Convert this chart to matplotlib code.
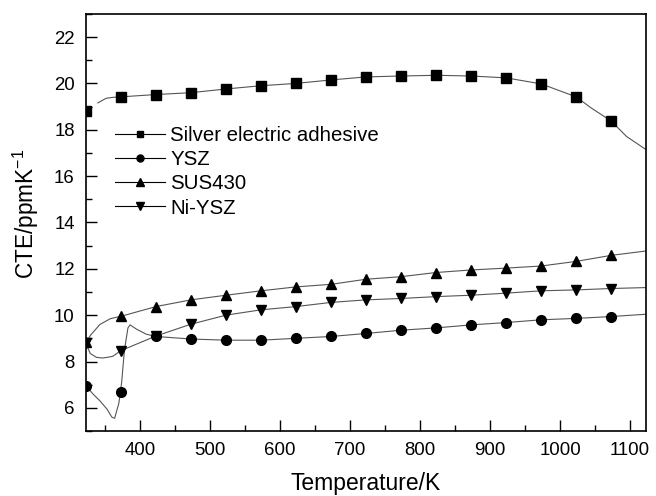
import numpy as np
import matplotlib
matplotlib.use('Agg')
import matplotlib.pyplot as plt
from matplotlib.ticker import MultipleLocator

plt.rcParams['font.family'] = ['Liberation Sans', 'DejaVu Sans']
plt.rcParams['mathtext.fontset'] = 'custom'
plt.rcParams['mathtext.rm'] = 'Liberation Sans'

# ── data ─────────────────────────────────────────────────────────────────────
# marker temperatures (every 50 K)
t_mark = [323, 373, 423, 473, 523, 573, 623, 673, 723, 773, 823, 873, 923, 973, 1023, 1073]

silver_mark = [18.82, 19.42, 19.52, 19.60, 19.76, 19.90, 20.00, 20.15, 20.28, 20.32,
               20.37, 20.32, 20.24, 19.98, 19.42, 18.38]
ysz_mark = [6.96, 6.67, 9.08, 8.97, 8.92, 8.92, 9.00, 9.08, 9.21, 9.35,
            9.45, 9.58, 9.68, 9.80, 9.86, 9.94]
sus_mark = [8.84, 9.95, 10.37, 10.66, 10.86, 11.05, 11.22, 11.33, 11.55, 11.66,
            11.84, 11.95, 12.03, 12.12, 12.32, 12.58]
ni_mark = [8.80, 8.47, 9.10, 9.61, 10.00, 10.23, 10.37, 10.55, 10.66, 10.72,
           10.80, 10.86, 10.95, 11.05, 11.09, 11.15]

# measured curves (denser near the low-temperature region)
silver_t = [340, 352, 362, 373, 423, 473, 523, 573, 623, 673, 723, 773, 823, 873, 923,
            973, 1023, 1045, 1073, 1095, 1123]
silver_v = [19.16, 19.36, 19.40, 19.42, 19.52, 19.60, 19.76, 19.90, 20.00, 20.15, 20.28,
            20.32, 20.35, 20.32, 20.24, 19.98, 19.42, 18.93, 18.38, 17.71, 17.14]

ysz_t = [323, 333, 343, 353, 360, 364, 370, 374, 378, 383, 386, 395, 409, 423, 473, 523,
         573, 623, 673, 723, 773, 823, 873, 923, 973, 1023, 1073, 1123]
ysz_v = [6.96, 6.60, 6.30, 5.95, 5.60, 5.55, 6.20, 7.10, 8.50, 9.45, 9.58, 9.40, 9.18,
         9.08, 8.97, 8.92, 8.92, 9.00, 9.08, 9.21, 9.35, 9.45, 9.58, 9.68, 9.80, 9.86,
         9.94, 10.04]

sus_t = [323, 330, 343, 358, 373, 423, 473, 523, 573, 623, 673, 723, 773, 823, 873, 923,
         973, 1023, 1073, 1123]
sus_v = [8.84, 9.15, 9.60, 9.85, 9.95, 10.37, 10.66, 10.86, 11.05, 11.22, 11.33, 11.55,
         11.66, 11.84, 11.95, 12.03, 12.12, 12.32, 12.58, 12.77]

ni_t = [323, 329, 338, 347, 361, 373, 423, 473, 523, 573, 623, 673, 723, 773, 823, 873,
        923, 973, 1023, 1073, 1123]
ni_v = [8.80, 8.35, 8.18, 8.15, 8.22, 8.47, 9.10, 9.61, 10.00, 10.23, 10.37, 10.55,
        10.66, 10.72, 10.80, 10.86, 10.95, 11.05, 11.09, 11.15, 11.19]

labels = ['Silver electric adhesive', 'YSZ', 'SUS430', 'Ni-YSZ']
markers = ['s', 'o', '^', 'v']
msizes = [6.6, 7.0, 7.6, 7.6]

# ── figure ───────────────────────────────────────────────────────────────────
fig = plt.figure(figsize=(6.56, 4.96), dpi=100, facecolor='white')
ax = fig.add_axes([0.131, 0.131, 0.854, 0.841])

line_col = '#555555'
series = [(silver_t, silver_v, silver_mark), (ysz_t, ysz_v, ysz_mark),
          (sus_t, sus_v, sus_mark), (ni_t, ni_v, ni_mark)]

handles = []
for (lt, lv, mv), lab, mk, ms in zip(series, labels, markers, msizes):
    ax.plot(lt, lv, '-', color=line_col, linewidth=0.8, zorder=2)
    ax.plot(t_mark, mv, linestyle='none', marker=mk, markersize=ms,
            color='black', zorder=3)
    # legend entry: small marker on a short line
    h, = ax.plot([], [], '-', color='black', linewidth=0.8, marker=mk,
                 markersize=ms * 0.72, label=lab)
    handles.append(h)

ax.set_xlim(323, 1123)
ax.set_ylim(5, 23)
ax.xaxis.set_major_locator(MultipleLocator(100))
ax.xaxis.set_minor_locator(MultipleLocator(50))
ax.yaxis.set_major_locator(MultipleLocator(2))
ax.yaxis.set_minor_locator(MultipleLocator(1))
ax.set_yticks([6, 8, 10, 12, 14, 16, 18, 20, 22])
ax.tick_params(which='major', direction='in', length=8, width=1, labelsize=13.4,
               top=False, right=False, pad=8)
ax.tick_params(which='minor', direction='in', length=4, width=1,
               top=False, right=False)
for sp in ax.spines.values():
    sp.set_linewidth(1.2)

ax.set_xlabel('Temperature/K', fontsize=16.5, labelpad=9)
ax.set_ylabel('CTE/ppmK$^{\\mathregular{-1}}$', fontsize=16.3)
ax.yaxis.set_label_coords(-0.081, 0.52)

ax.legend(handles=handles, loc='upper left', bbox_to_anchor=(0.052, 0.732),
          frameon=False, fontsize=14.7, handlelength=2.45, handletextpad=0.25,
          labelspacing=0.26, borderpad=0, borderaxespad=0)

plt.savefig('out.png', dpi=100, facecolor='white')
plt.close()
